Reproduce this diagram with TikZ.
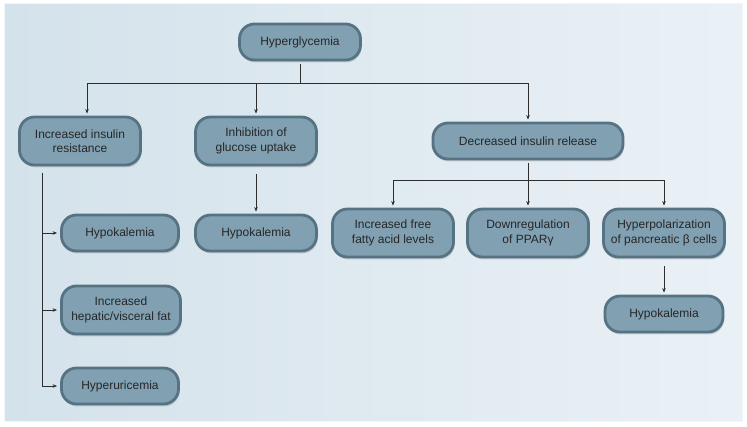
\documentclass[tikz,border=0pt]{standalone}
\usepackage{fontspec}
\setmainfont{Liberation Sans}
\usepackage{xcolor}
\definecolor{mfill}{RGB}{129,161,179}
\definecolor{mborder}{RGB}{86,115,131}
\definecolor{mtext}{RGB}{38,38,38}
\definecolor{bgdark}{RGB}{212,226,235}
\definecolor{bglight}{RGB}{234,241,246}
\definecolor{marrow}{RGB}{45,45,45}
\usetikzlibrary{calc}
\usetikzlibrary{shadows}
\usetikzlibrary{arrows.meta}

\begin{document}
\begin{tikzpicture}[x=1pt, y=-1pt,
    module/.style={draw=mborder, fill=mfill, line width=2.8pt, rounded corners=15pt,
        text=mtext, align=center, font=\fontsize{12}{14.5}\selectfont,
        minimum width=121pt, minimum height=48pt, inner sep=2pt,
        drop shadow={shadow xshift=1pt, shadow yshift=-2.5pt, opacity=.3}},
    single/.style={module, minimum height=36pt},
    wide/.style={single, minimum width=190pt},
    arrow/.style={-{Stealth[length=4.5pt, width=3.5pt]}, line width=.7pt, draw=marrow},
    link/.style={line width=.7pt, draw=marrow},
]
\useasboundingbox (0,0) rectangle (747,427);
\shade[left color=bgdark, right color=bglight, draw=white!70!bgdark, line width=1pt] (4,4) rectangle (742,422);

\node[single] (hyper) at (300,42) {Hyperglycemia};
\node[module] (insulin_resist) at (80,141) {Increased insulin\\resistance};
\node[module] (glucose_uptake) at (256,141) {Inhibition of\\glucose uptake};
\node[wide] (insulin_release) at (528,141) {Decreased insulin release};

\node[single, minimum width=117pt] (hypok_left) at (120,233) {Hypokalemia};
\node[module, minimum width=119pt] (visceral_fat) at (121,310) {Increased\\hepatic/visceral fat};
\node[single, minimum width=117pt] (uricemia) at (120,386) {Hyperuricemia};
\node[single] (hypok_mid) at (256,233) {Hypokalemia};

\node[module] (fatty_acid) at (393,233) {Increased free\\fatty acid levels};
\node[module] (ppar) at (528,233) {Downregulation\\of PPARγ};
\node[module] (beta_cells) at (664,233) {Hyperpolarization\\of pancreatic β cells};
\node[single, minimum width=118pt] (hypok_right) at (664,314) {Hypokalemia};

% branch points
\coordinate (split_top) at (300,83);
\coordinate (split_release) at (528,180);
\coordinate (trunk_top) at (42,173);

\draw[link] ([yshift=-3pt]hyper.south) -- (split_top);
\draw[arrow] (split_top) -| ([xshift=7pt, yshift=2pt]insulin_resist.north);
\draw[arrow] (split_top) -| ([yshift=2pt]glucose_uptake.north);
\draw[arrow] (split_top) -| ([yshift=2pt]insulin_release.north);

\draw[link] ([yshift=-3pt]insulin_release.south) -- (split_release);
\draw[arrow] (split_release) -| ([yshift=2pt]fatty_acid.north);
\draw[arrow] (split_release) -- ([yshift=2pt]ppar.north);
\draw[arrow] (split_release) -| ([yshift=2pt]beta_cells.north);

\draw[arrow] ([yshift=-8pt]glucose_uptake.south) -- ([yshift=2pt]hypok_mid.north);
\draw[arrow] ([yshift=-8pt]beta_cells.south) -- ([yshift=2pt]hypok_right.north);

\draw[link] (trunk_top) -- (trunk_top |- uricemia.west);
\draw[arrow] (trunk_top |- hypok_left.west) -- ([xshift=-3pt]hypok_left.west);
\draw[arrow] (trunk_top |- visceral_fat.west) -- ([xshift=-3pt]visceral_fat.west);
\draw[arrow] (trunk_top |- uricemia.west) -- ([xshift=-3pt]uricemia.west);

\end{tikzpicture}
\end{document}
